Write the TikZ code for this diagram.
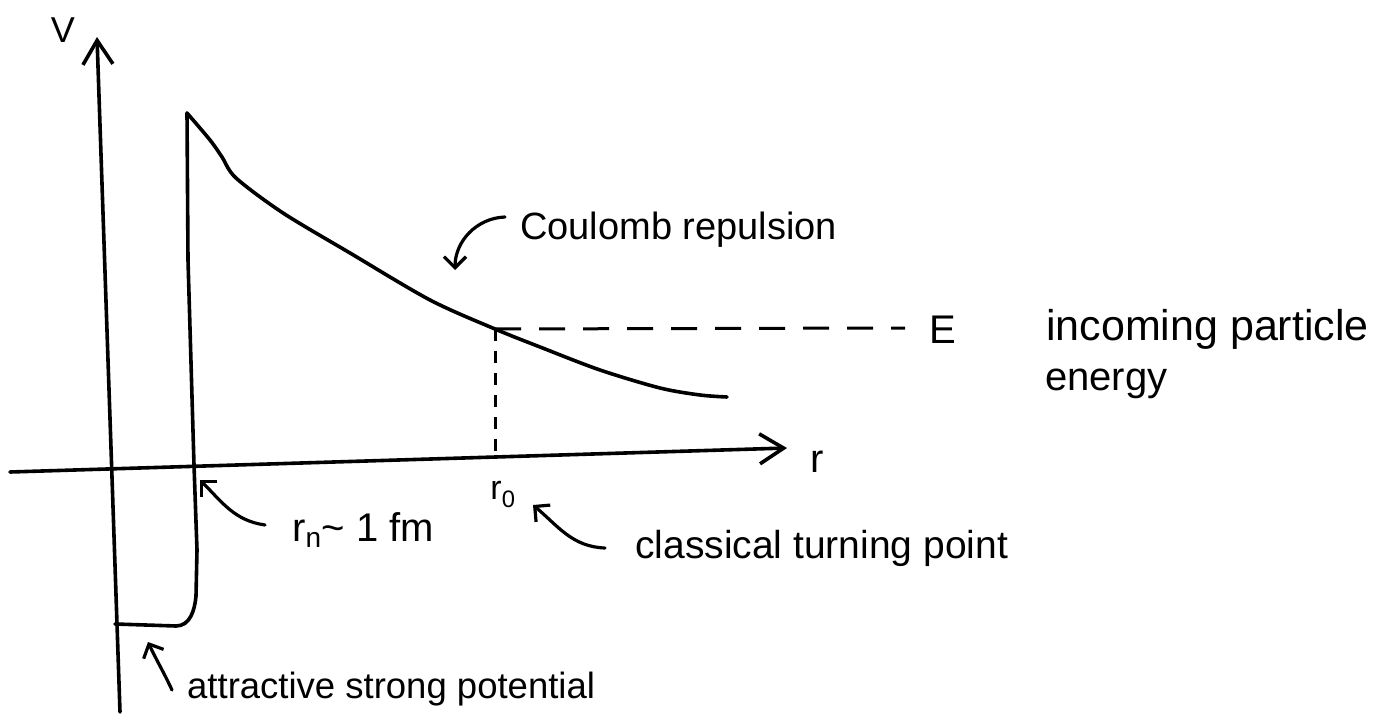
\documentclass[tikz,border=0pt]{standalone}
\usepackage{fontspec}
\setmainfont{Liberation Sans}
\usetikzlibrary{arrows.meta}
\begin{document}
\begin{tikzpicture}[x=1pt,y=-1pt,
  ink/.style={line width=3.6pt, line cap=round, line join=round},
  axis/.style={ink, -{Straight Barb[length=24pt,width=30pt,line width=3.6pt]}},
  arr/.style={line width=3.2pt, line cap=round, line join=round, -{Straight Barb[length=11pt,width=22pt,line width=3.2pt]}},
  guide/.style={line width=3pt, dash pattern=on 26pt off 18pt},
  guidev/.style={line width=3pt, dash pattern=on 12pt off 10pt},
  fs/.style={font=\fontsize{#1}{#1}\selectfont, inner sep=0pt}]
\useasboundingbox (0,0) rectangle (1378,719);
% axes
\coordinate (vbot) at (120,712);
\coordinate (vtop) at (97,37);
\coordinate (rl) at (10,472);
\coordinate (rr) at (787,448);
\draw[axis] (vbot) -- (vtop);
\draw[axis] (rl) -- (rr);
\node[fs=36] (V) at (63,30) {V};
\node[fs=40] (r) at (817,462) {r};
% potential
\coordinate (tp) at (495,329);
\draw[ink] (115,624) -- (176,626) to[out=0,in=-95] (196,596) -- (197,550) -- (194,465) -- (188,260) -- (187,113);
\draw[ink] plot[smooth, tension=0.5] coordinates {(187,113) (210,140) (222,157) (236,178) (283,213) (350,253) (430,300) (495,329) (540,347) (600,370) (660,388) (700,395) (727,397)};
% energy level
\coordinate (eend) at (905,328);
\coordinate (r0foot) at (495,455);
\draw[guide] (tp) -- (eend);
\draw[guidev] (tp) -- (r0foot);
\node[fs=40] (E) at (943,330) {E};
\node[fs=43, anchor=base west] (inc) at (1046,340) {incoming particle};
\node[fs=40, anchor=base west] (en) at (1045,390) {energy};
\node[fs=34] (r0) at (503,494) {r\textsubscript{0}};
% labels & pointers
\node[fs=38, anchor=base west] (coul) at (520,240) {Coulomb repulsion};
\coordinate (cpt) at (455,270);
\coordinate (cts) at (505,217);
\draw[arr] (cts) to[out=182,in=90] (cpt);
\node[fs=40, anchor=base west] (rn) at (292,541) {r\textsubscript{n}\textasciitilde\ 1 fm};
\coordinate (rnpt) at (200,480);
\coordinate (rns) at (265,525);
\draw[arr] (rns) to[out=172,in=-45] (rnpt);
\node[fs=39, anchor=base west] (ctp) at (635,558) {classical turning point};
\coordinate (ctpt) at (533,505);
\coordinate (ctps) at (605,548);
\draw[arr] (ctps) to[out=178,in=-40] (ctpt);
\node[fs=36.5, anchor=base west] (asp) at (187,698) {attractive strong potential};
\coordinate (aspt) at (148,642);
\coordinate (asps) at (172,690);
\draw[arr] (asps) to[out=115,in=-65] (aspt);
\end{tikzpicture}
\end{document}
